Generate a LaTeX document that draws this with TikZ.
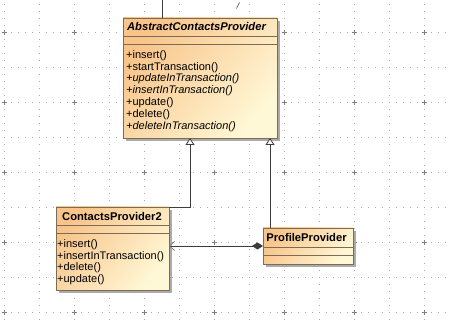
\documentclass[tikz,border=0pt]{standalone}
\usepackage{fontspec}
\setmainfont{Liberation Sans}
\usetikzlibrary{arrows.meta}

\definecolor{classtop}{HTML}{F8C48A}
\definecolor{classbottom}{HTML}{FFF8D6}
\definecolor{classedge}{HTML}{7D6B55}
\definecolor{classshadow}{HTML}{ABABAB}
\definecolor{wire}{HTML}{3C3C3C}
\definecolor{griddot}{HTML}{A8A8A8}

\tikzset{
  classbody/.style={draw=classedge, line width=0.8pt, inner sep=0pt, outer sep=0pt,
    left color=classtop, right color=classbottom, shading angle=50},
  compart/.style={draw=classedge, line width=0.8pt},
  classname/.style={inner sep=0pt, font={\fontsize{11.2}{12}\selectfont\bfseries}},
  optext/.style={inner sep=0pt, align=left, font={\fontsize{11}{11.9}\selectfont}},
  gen/.style={wire, line width=0.8pt, -{Triangle[open, length=7pt, width=9pt, fill=white]}},
  assoc/.style={wire, line width=0.8pt,
    {Diamond[length=11pt, width=7pt]}-{Straight Barb[length=5pt, width=9pt, line width=0.8pt, color=gray]}},
}

\newcommand{\umlclass}[7]{
    \fill[classshadow] (#2+3,#3+3) rectangle (#4+3,#5+3);
    \node[classbody, minimum width={#4-#2}, minimum height={#5-#3}, anchor=north west] (#1) at (#2,#3) {};
    \draw[compart] (#2,#6) -- (#4,#6);
    \draw[compart] (#2,#7) -- (#4,#7);
}

\begin{document}
\begin{tikzpicture}[x=1pt, y=-1pt]
  \useasboundingbox (0,0) rectangle (450,320);

  % dotted grid
  \foreach \gx in {4,39,...,424}
    \foreach \gy in {-2.5,4.5,...,320}
      \fill[griddot] (\gx-0.5,\gy-0.5) rectangle +(1,1);
  \foreach \gy in {-2.5,32.5,...,315}
    \foreach \gx in {-3,4,...,450}
      \fill[griddot] (\gx-0.5,\gy-0.5) rectangle +(1,1);
  \foreach \gx in {4,74,...,424}
    \foreach \gy in {32.5,102.5,...,315}
      \draw[gray, line width=0.8pt] (\gx-2.5,\gy) -- (\gx+2.5,\gy) (\gx,\gy-2.5) -- (\gx,\gy+2.5);

  % (name, left, top, right, bottom, divider, divider)
  \umlclass{acp}{123}{18}{277}{138}{36}{44}
  \umlclass{cp2}{56}{207}{169}{290}{225}{233}
  \umlclass{pp}{263}{228}{353}{264}{247}{255}

  \node[classname] (acpName) at (196.5,27) {\itshape AbstractContactsProvider};
  \node[classname] (cp2Name) at (112,216) {ContactsProvider2};
  \node[classname] (ppName) at (306.5,237.5) {ProfileProvider};

  \node[optext, anchor=north west] (acpOps) at (126,50)
    {+insert()\\+startTransaction()\\\textit{+updateInTransaction()}\\\textit{+insertInTransaction()}\\+update()\\+delete()\\\textit{+deleteInTransaction()}};
  \node[optext, anchor=north west] (cp2Ops) at (57,239)
    {+insert()\\+insertInTransaction()\\+delete()\\+update()};

  \coordinate (acpGenA) at (190,138);
  \coordinate (acpGenB) at (270,138);
  \draw[gen] (cp2.north east) -| (acpGenA);
  \draw[gen] (pp.north -| acpGenB) -- (acpGenB);
  \draw[assoc] (pp.west) -- (pp.west -| cp2.east);

  \coordinate (stubA) at (162,0);
  \coordinate (stubB) at (236.5,8.5);
  \coordinate (stubC) at (239.5,2.5);
  \draw[wire, line width=0.8pt] (stubA) -- (stubA |- acp.north);
  \draw[wire, line width=0.6pt] (stubB) -- (stubC);

\end{tikzpicture}
\end{document}
